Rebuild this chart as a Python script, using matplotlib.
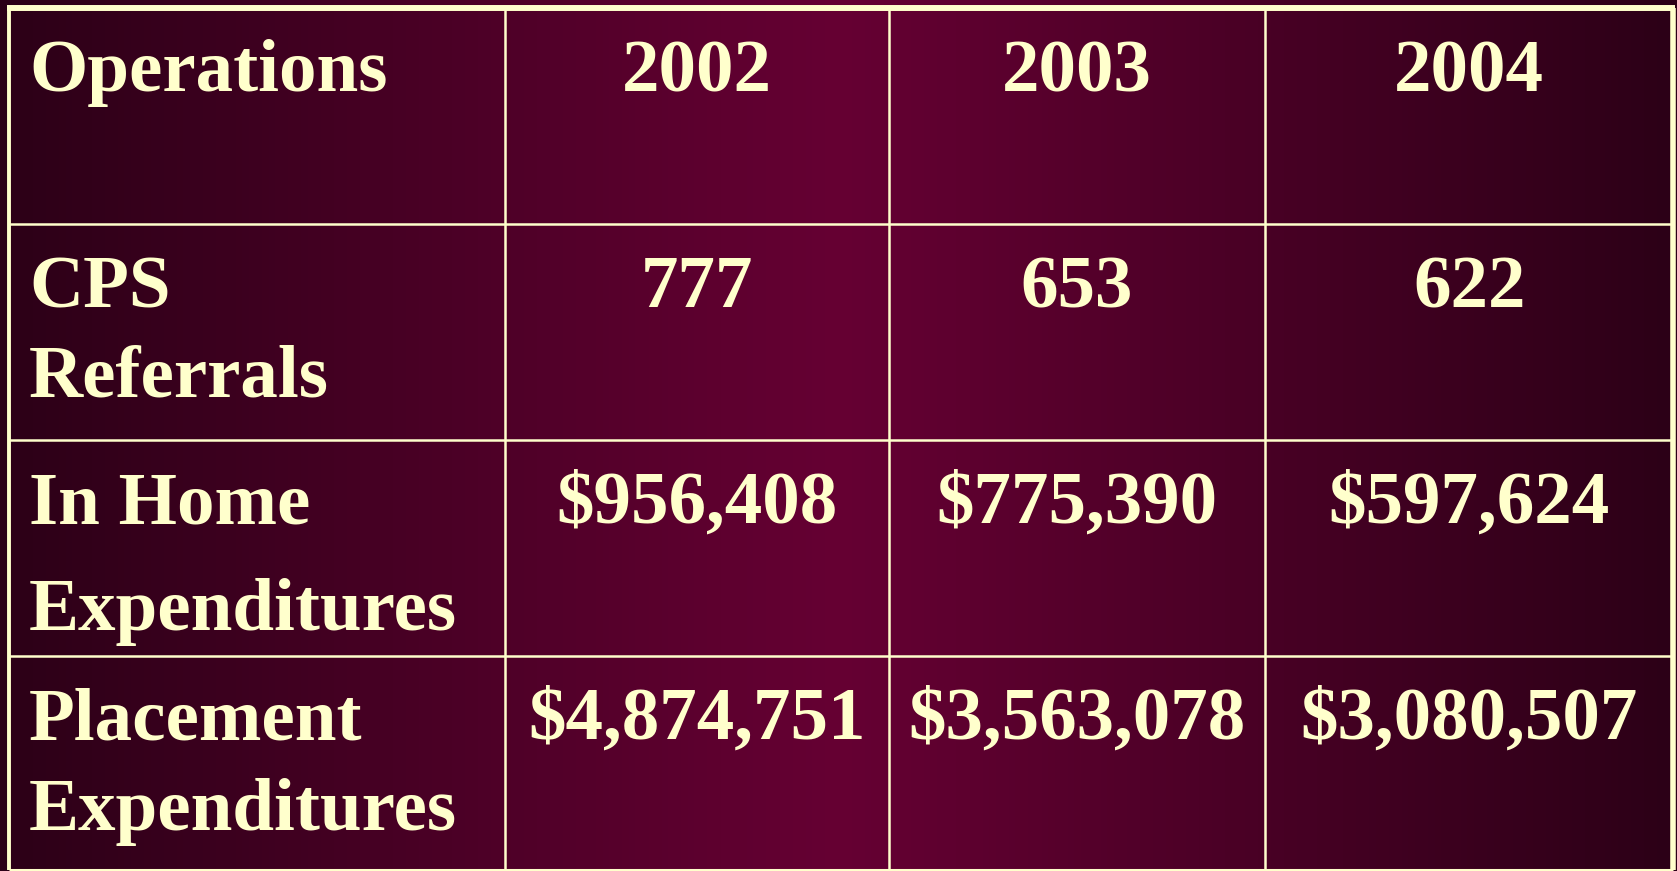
import numpy as np
import matplotlib.pyplot as plt
from matplotlib.colors import LinearSegmentedColormap

# TABLE DATA
header = "Operations"
years = ["2002", "2003", "2004"]
row_labels = [["CPS", "Referrals"],
              ["In Home", "Expenditures"],
              ["Placement", "Expenditures"]]
cps_referrals = ["777", "653", "622"]
in_home_exp = ["$956,408", "$775,390", "$597,624"]
placement_exp = ["$4,874,751", "$3,563,078", "$3,080,507"]

# LAYOUT (pixels)
W, H = 1677, 871
col_edges = [9.5, 505, 889, 1265, 1673.5]
row_edges = [8, 224, 440, 656, 869.5]
line_gap = [89, 107, 91]
cream = "#ffffcc"

fig = plt.figure(figsize=(W / 100, H / 100), dpi=100)
ax = fig.add_axes([0, 0, 1, 1])
ax.set_xlim(0, W)
ax.set_ylim(H, 0)
ax.axis("off")

# background: dark edges, lighter maroon in the middle
cmap = LinearSegmentedColormap.from_list("bg", ["#2c0017", "#660033", "#2c0017"])
grad = np.linspace(0, 1, 512).reshape(1, -1)
ax.imshow(grad, cmap=cmap, extent=[0, W, H, 0], aspect="auto", zorder=0)

# grid lines
ax.vlines(col_edges[1:-1], row_edges[0], row_edges[-1], color=cream, lw=1.8, zorder=2)
ax.hlines(row_edges[1:-1], col_edges[0], col_edges[-1], color=cream, lw=1.8, zorder=2)
ax.hlines(row_edges[0], col_edges[0] - 2, col_edges[-1] + 2, color=cream, lw=4.3, zorder=3)
ax.hlines(row_edges[-1], col_edges[0], col_edges[-1], color=cream, lw=2.2, zorder=3)
ax.vlines(col_edges[0], row_edges[0], row_edges[-1], color=cream, lw=2.8, zorder=3)
ax.vlines(col_edges[-1], row_edges[0], row_edges[-1], color=cream, lw=4.0, zorder=3)

font = dict(family="Liberation Serif", weight="bold", size=54, color=cream,
            va="baseline", zorder=4)
baseline = 83
label_x = 29

ax.text(label_x, row_edges[0] + baseline, header, ha="left", **font)
for j, yr in enumerate(years):
    cx = (col_edges[j + 1] + col_edges[j + 2]) / 2
    ax.text(cx, row_edges[0] + baseline, yr, ha="center", **font)

rows = [cps_referrals, in_home_exp, placement_exp]
for i, (lines, vals) in enumerate(zip(row_labels, rows)):
    top = row_edges[i + 1]
    for k, ln in enumerate(lines):
        ax.text(label_x, top + baseline + k * line_gap[i], ln, ha="left", **font)
    for j, v in enumerate(vals):
        cx = (col_edges[j + 1] + col_edges[j + 2]) / 2
        ax.text(cx, top + baseline, v, ha="center", **font)

fig.savefig("out.png", dpi=100)
